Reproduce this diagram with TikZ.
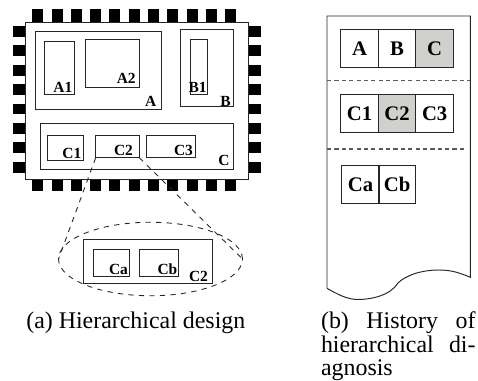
\documentclass[tikz,border=0pt]{standalone}
\usepackage{fontspec}
\setmainfont{Liberation Serif}
\usetikzlibrary{shapes.geometric, positioning}
\definecolor{cellgray}{RGB}{208,208,204}

\begin{document}
\begin{tikzpicture}[
  x=0.02cm, y=-0.02cm,
  blk/.style={draw=black!85, line width=0.55pt},
  tag/.style={font=\fontsize{8.8}{8.8}\selectfont\bfseries, anchor=base east, inner sep=0pt},
  cell/.style={rectangle, draw=black!85, line width=0.55pt, minimum width=0.752cm, minimum height=0.75cm,
               inner sep=0pt, outer sep=0pt, font=\fontsize{11.8}{11.8}\selectfont\bfseries},
  zoomline/.style={dashed, draw=black!85, line width=0.5pt},
  rowline/.style={dash pattern=on 2.4pt off 1.8pt, draw=black!65, line width=0.7pt},
  captext/.style={font=\fontsize{13.6}{13.6}\selectfont, inner sep=0pt},
]
\useasboundingbox (0,0) rectangle (478,380);

%% LEFT PANEL (chip)
\foreach \i in {0,...,10} {
  \fill ({32.3+19.3*\i},9.3) rectangle +(11,12.7);
  \fill ({32.3+19.3*\i},179) rectangle +(11,11.7);
}
\foreach \i in {0,...,7} {
  \fill (13,{26+19.4*\i}) rectangle +(12.3,10.7);
  \fill (248.3,{26+19.4*\i}) rectangle +(12.7,10.7);
}
\draw[blk] (25.3,22) rectangle (248.3,179);

\draw[blk] (35.3,31.7) rectangle (161.3,109.3);
\draw[blk] (44.7,41.3) rectangle (74,94.7);
\draw[blk] (85.7,39) rectangle (139.3,87.7);
\node[tag] (tA1) at (72.7,92.7) {A1};
\node[tag] (tA2) at (136,83.3) {A2};
\node[tag] (tA) at (156.7,106.7) {A};

\draw[blk] (180.3,29.3) rectangle (233.3,106.7);
\draw[blk] (190,39) rectangle (207,94.7);
\node[tag] (tB1) at (207,92.7) {B1};
\node[tag] (tB) at (231,106.7) {B};

\draw[blk] (40,123.7) rectangle (233.3,169.7);
\draw[blk] (47.3,135.7) rectangle (83.7,160);
\node[blk, rectangle, minimum width=0.872cm, minimum height=0.44cm, inner sep=0pt, outer sep=0pt] (C2) at (117.5,146.7) {};
\draw[blk] (146.3,135.7) rectangle (195,157.7);
\node[tag] (tC1) at (81.7,158.3) {C1};
\node[tag] (tC2) at (133.3,155) {C2};
\node[tag] (tC3) at (193.3,155) {C3};
\node[tag] (tC) at (230,165) {C};

%% ZOOMED BLOCK
\node[ellipse, zoomline, minimum width=3.68cm, minimum height=1.47cm, inner sep=0pt, outer sep=0pt] (zoom) at (150.5,259) {};
\draw[zoomline] (C2.south west) -- (zoom.west);
\draw[zoomline] (C2.south east) -- (zoom.east);

\draw[blk] (83.7,239.7) rectangle (212,283.3);
\draw[blk] (93.3,249.3) rectangle (129.7,276.7);
\draw[blk] (139,249.3) rectangle (178,276.7);
\node[tag] (tCa) at (128.3,274.7) {Ca};
\node[tag] (tCb) at (177.7,274.7) {Cb};
\node[tag] (tCz) at (208.3,281) {C2};

\node[captext, anchor=base west] (capa) at (26,328) {(a) Hierarchical design};

%% RIGHT PANEL (history)
\draw[blk] (327,288.3) -- (327,16) -- (470.3,16) -- (470.3,277.3)
  .. controls (458,272) and (450,270) .. (439,270)
  .. controls (420,270) and (405,276) .. (398,283)
  .. controls (390,296) and (370,299.5) .. (358,299.5)
  .. controls (347,299.5) and (337,294) .. (327,288.3);

\node[cell] (hA) at (359.5,48.7) {A};
\node[cell] (hB) at (397.1,48.7) {B};
\node[cell, fill=cellgray] (hC) at (434.7,48.7) {C};
\draw[rowline] (327,80.7) -- (470.3,80.7);

\node[cell] (hC1) at (359.5,113.3) {C1};
\node[cell, fill=cellgray] (hC2) at (397.1,113.3) {C2};
\node[cell] (hC3) at (434.7,113.3) {C3};
\draw[rowline] (327,149) -- (467,149);

\node[cell] (hCa) at (360.5,184.5) {Ca};
\node[cell] (hCb) at (397.1,184.5) {Cb};

\node[captext, anchor=north west, text width=3.09cm, align=justify] (capb) at (320.7,311)
  {(b) History of\linebreak hierarchical di-\linebreak agnosis};

\end{tikzpicture}
\end{document}
